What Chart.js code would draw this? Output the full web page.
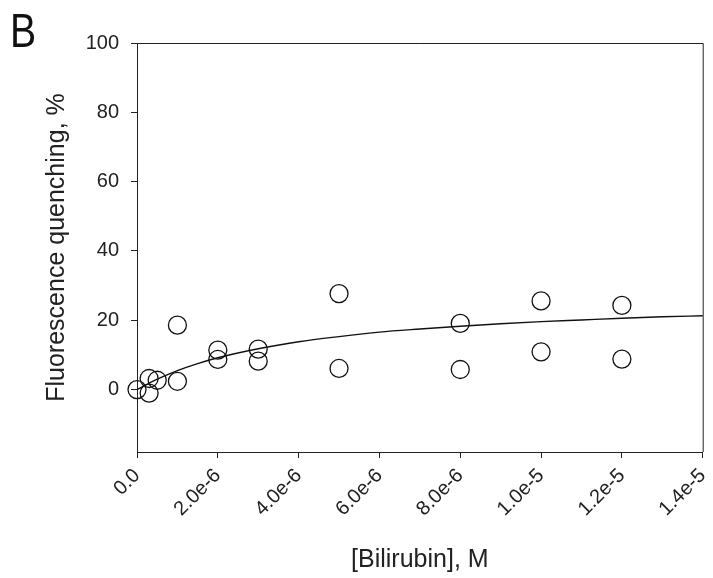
<!DOCTYPE html>
<html>
<head>
<meta charset="utf-8">
<script src="https://cdn.jsdelivr.net/npm/chart.js@4"></script>
<style>
  body { margin: 0; background: #fff; }
  canvas { display: block; }
</style>
</head>
<body>
<canvas id="quenching" width="713" height="578"></canvas>
<script>
// measured points: bilirubin concentration (M) vs fluorescence quenching (%)
const concM = [0, 0.3e-6, 0.3e-6, 0.5e-6, 1e-6, 1e-6, 2e-6, 2e-6, 3e-6, 3e-6, 5e-6, 5e-6, 8e-6, 8e-6, 1e-5, 1e-5, 1.2e-5, 1.2e-5];
const quenching = [0, 3.2, -1.0, 2.7, 2.4, 18.6, 11.4, 8.7, 11.7, 8.2, 27.7, 6.1, 19.1, 5.8, 25.6, 10.9, 24.3, 8.8];

// fitted curve
const fitX = [0, 0.5e-6, 1e-6, 1.5e-6, 2e-6, 3e-6, 4e-6, 5e-6, 6e-6, 7e-6, 8e-6, 9e-6, 1e-5, 1.1e-5, 1.2e-5, 1.3e-5, 1.4e-5];
const fitY = [0, 3.0, 5.5, 7.5, 9.2, 11.8, 13.8, 15.3, 16.6, 17.5, 18.3, 19.0, 19.6, 20.1, 20.6, 21.0, 21.3];

const xTickValues = [0, 2e-6, 4e-6, 6e-6, 8e-6, 1e-5, 1.2e-5, 1.4e-5];
const xTickLabels = ['0.0', '2.0e-6', '4.0e-6', '6.0e-6', '8.0e-6', '1.0e-5', '1.2e-5', '1.4e-5'];
const yTickValues = [0, 20, 40, 60, 80, 100];

const FONT = "'Liberation Sans', Arial, sans-serif";
const INK = '#222';

const framePlugin = {
    id: 'frame',
    afterDraw(chart) {
        const { ctx, chartArea: a } = chart;
        ctx.save();
        ctx.strokeStyle = INK;
        ctx.lineWidth = 1;
        ctx.beginPath();
        ctx.moveTo(a.left, a.top + 0.5);
        ctx.lineTo(a.right + 0.5, a.top + 0.5);
        ctx.lineTo(a.right + 0.5, a.bottom);
        ctx.stroke();
        // panel letter, a bit condensed like the original
        ctx.fillStyle = '#111';
        ctx.font = '49px ' + FONT;
        ctx.textBaseline = 'alphabetic';
        ctx.translate(10, 47);
        ctx.scale(0.8, 1);
        ctx.fillText('B', 0, 0);
        ctx.restore();
    }
};

const ctx = document.getElementById('quenching');
new Chart(ctx, {
    type: 'scatter',
    data: {
        datasets: [{
            label: 'fit',
            data: fitX.map((x, i) => ({ x: x, y: fitY[i] })),
            showLine: true,
            borderColor: '#111',
            borderWidth: 1.4,
            pointRadius: 0,
            cubicInterpolationMode: 'monotone',
            clip: false
        }, {
            label: 'data',
            data: concM.map((x, i) => ({ x: x, y: quenching[i] })),
            showLine: false,
            pointRadius: 9,
            pointBorderWidth: 1.3,
            pointBorderColor: '#111',
            pointBackgroundColor: 'rgba(0,0,0,0)',
            clip: false
        }]
    },
    options: {
        responsive: false,
        animation: false,
        layout: { padding: { top: 43, right: 5, left: 0, bottom: 0 } },
        scales: {
            x: {
                type: 'linear',
                min: 0,
                max: 1.4e-5,
                afterBuildTicks: s => { s.ticks = xTickValues.map(v => ({ value: v })); },
                afterFit: s => { s.height = 126; s.paddingRight = 0; s.paddingLeft = 0; },
                ticks: {
                    autoSkip: false,
                    maxRotation: 45,
                    minRotation: 45,
                    padding: 6,
                    color: INK,
                    font: { family: FONT, size: 20 },
                    callback: (v, i) => xTickLabels[i]
                },
                grid: { drawOnChartArea: false, drawTicks: true, tickLength: 6, color: INK },
                border: { display: true, color: INK, width: 1 },
                title: {
                    display: true,
                    text: '[Bilirubin], M',
                    color: INK,
                    font: { family: FONT, size: 25 },
                    padding: { top: 0, bottom: 3 }
                }
            },
            y: {
                min: -18,
                max: 100,
                afterBuildTicks: s => { s.ticks = yTickValues.map(v => ({ value: v })); },
                afterFit: s => { s.width = 137; },
                ticks: {
                    padding: 12,
                    color: INK,
                    font: { family: FONT, size: 20 }
                },
                grid: { drawOnChartArea: false, drawTicks: true, tickLength: 6, color: INK },
                border: { display: true, color: INK, width: 1 },
                title: {
                    display: true,
                    text: 'Fluorescence quenching, %',
                    color: INK,
                    font: { family: FONT, size: 25 },
                    padding: { top: 42, bottom: 0 }
                }
            }
        },
        plugins: {
            legend: { display: false },
            tooltip: { enabled: false }
        }
    },
    plugins: [framePlugin]
});
</script>
</body>
</html>
